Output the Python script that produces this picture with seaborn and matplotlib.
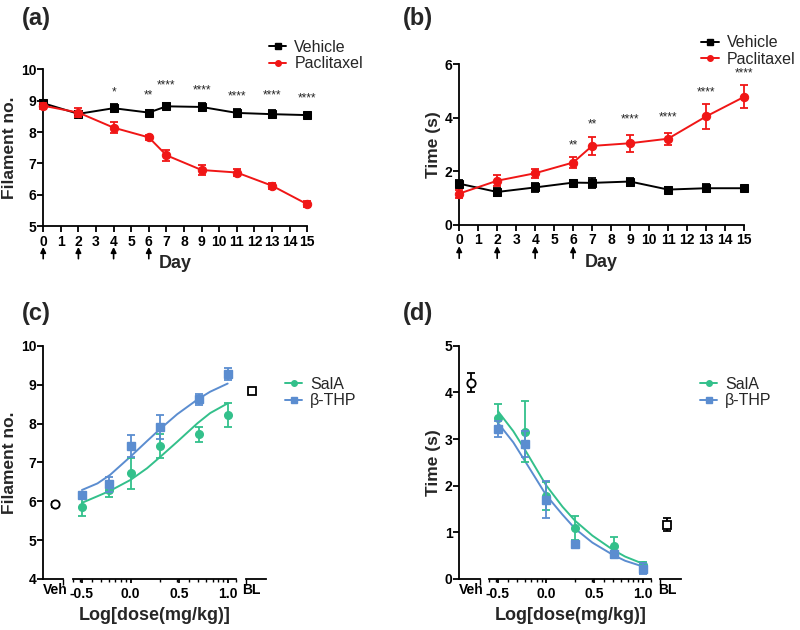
import numpy as np
import matplotlib
matplotlib.use('Agg')
import matplotlib.pyplot as plt
from matplotlib.lines import Line2D
from matplotlib.ticker import FixedLocator
import seaborn as sns

sns.set_theme(style='ticks')
plt.rcParams['font.family'] = ['Liberation Sans', 'DejaVu Sans']
plt.rcParams['font.weight'] = 'bold'
plt.rcParams['axes.labelweight'] = 'bold'
plt.rcParams['axes.linewidth'] = 1.3
plt.rcParams['xtick.major.width'] = 1.3
plt.rcParams['ytick.major.width'] = 1.3
plt.rcParams['xtick.minor.width'] = 1.0
plt.rcParams['xtick.color'] = 'black'
plt.rcParams['ytick.color'] = 'black'
plt.rcParams['axes.edgecolor'] = 'black'

# ---- data: time course (a, b) ----
days = [0, 2, 4, 6, 7, 9, 11, 13, 15]
inject_days = [0, 2, 4, 6]

a_veh = [8.92, 8.58, 8.76, 8.62, 8.82, 8.80, 8.61, 8.57, 8.54]
a_veh_err = [0.10, 0.10, 0.12, 0.08, 0.10, 0.12, 0.14, 0.13, 0.08]
a_pac = [8.84, 8.62, 8.14, 7.83, 7.26, 6.79, 6.71, 6.29, 5.70]
a_pac_err = [0.10, 0.15, 0.17, 0.09, 0.17, 0.16, 0.11, 0.10, 0.09]
a_star_days = [4, 6, 7, 9, 11, 13, 15]
a_star_text = ['*', '**', '****', '****', '****', '****', '****']
a_star_y = [9.27, 9.17, 9.49, 9.33, 9.12, 9.17, 9.07]

b_veh = [1.54, 1.23, 1.40, 1.58, 1.57, 1.62, 1.32, 1.37, 1.37]
b_veh_err = [0.14, 0.15, 0.16, 0.10, 0.20, 0.15, 0.08, 0.14, 0.10]
b_pac = [1.17, 1.65, 1.93, 2.33, 2.95, 3.05, 3.22, 4.05, 4.78]
b_pac_err = [0.15, 0.21, 0.17, 0.20, 0.35, 0.32, 0.22, 0.45, 0.43]
b_star_days = [6, 7, 9, 11, 13, 15]
b_star_text = ['**', '**', '****', '****', '****', '****']
b_star_y = [2.98, 3.75, 3.94, 4.01, 4.93, 5.67]

# ---- data: dose response (c, d) ----
dose_log = [-0.5, -0.22, 0.0, 0.3, 0.7, 1.0]
fit_x = [-0.5, -0.34, -0.21, 0.0, 0.17, 0.3, 0.48, 0.69, 0.82, 1.0]

c_sala = [5.86, 6.29, 6.72, 7.42, 7.72, 8.22]
c_sala_err = [0.25, 0.18, 0.40, 0.30, 0.20, 0.30]
c_thp = [6.16, 6.44, 7.42, 7.92, 8.63, 9.28]
c_thp_err = [0.05, 0.19, 0.29, 0.31, 0.14, 0.16]
c_sala_fit = [5.96, 6.13, 6.27, 6.55, 6.85, 7.13, 7.53, 8.01, 8.27, 8.52]
c_thp_fit = [6.29, 6.46, 6.68, 7.15, 7.55, 7.85, 8.24, 8.62, 8.82, 9.03]
c_veh, c_veh_err = 5.92, 0.07
c_bl, c_bl_err = 8.83, 0.08

d_sala = [3.46, 3.16, 1.78, 1.09, 0.70, 0.31]
d_sala_err = [0.29, 0.65, 0.30, 0.25, 0.20, 0.05]
d_thp = [3.22, 2.90, 1.70, 0.76, 0.53, 0.22]
d_thp_err = [0.17, 0.28, 0.40, 0.06, 0.08, 0.12]
d_sala_fit = [3.60, 3.17, 2.74, 2.01, 1.55, 1.25, 0.93, 0.63, 0.48, 0.33]
d_thp_fit = [3.35, 2.93, 2.50, 1.80, 1.38, 1.08, 0.78, 0.52, 0.39, 0.27]
d_veh, d_veh_err = 4.21, 0.20
d_bl, d_bl_err = 1.16, 0.14

minor_doses = [0.3, 0.4, 0.5, 0.6, 0.7, 0.8, 0.9, 2, 3, 4, 5, 6, 7, 8, 9]

RED = '#f01616'
GREEN = '#33c08b'
BLUE = '#5b8dd0'

fig = plt.figure(figsize=(8, 6.3), dpi=100)


def time_panel(rect, veh, veh_err, pac, pac_err, star_days, star_text, star_y,
               ylim, yticks, ylabel, leg_anchor):
    ax = fig.add_axes(rect)
    sns.lineplot(x=days, y=veh, ax=ax, color='black', marker='s', markersize=6,
                 markeredgecolor='black', linewidth=1.4, clip_on=False, zorder=3)
    ax.errorbar(days, veh, yerr=veh_err, fmt='none', ecolor='black',
                elinewidth=1.3, capsize=3, capthick=1.3, clip_on=False, zorder=3)
    sns.lineplot(x=days, y=pac, ax=ax, color=RED, marker='o', markersize=6,
                 markeredgecolor=RED, linewidth=1.4, clip_on=False, zorder=4)
    ax.errorbar(days, pac, yerr=pac_err, fmt='none', ecolor=RED,
                elinewidth=1.3, capsize=3, capthick=1.3, clip_on=False, zorder=4)
    for d, t, y in zip(star_days, star_text, star_y):
        ax.text(d, y, t, ha='center', va='center', fontsize=8.5, fontweight='normal')
    ax.set_xlim(0, 15)
    ax.set_ylim(*ylim)
    ax.set_xticks(range(0, 16))
    ax.set_yticks(yticks)
    ax.tick_params(axis='x', labelsize=10, length=4, pad=2)
    ax.tick_params(axis='y', labelsize=10, length=4, pad=0.8)
    ax.set_ylabel(ylabel, fontsize=12.5, labelpad=3)
    ax.set_xlabel('Day', fontsize=13, labelpad=5)
    for d in inject_days:
        ax.annotate('', xy=(d, -0.115), xytext=(d, -0.225),
                    xycoords=('data', 'axes fraction'),
                    arrowprops=dict(arrowstyle='-|>', color='black', lw=1.2,
                                    mutation_scale=8))
    sns.despine(ax=ax)
    handles = [Line2D([], [], color='black', marker='s', markersize=4, lw=1.4),
               Line2D([], [], color=RED, marker='o', markersize=4, lw=1.4)]
    ax.legend(handles, ['Vehicle', 'Paclitaxel'], loc='upper left',
              bbox_to_anchor=leg_anchor, frameon=False, handlelength=1.1,
              handletextpad=0.5, labelspacing=0.1, prop={'size': 11.5, 'weight': 'normal'})
    return ax


time_panel([0.054, 0.641, 0.330, 0.249], a_veh, a_veh_err, a_pac, a_pac_err,
           a_star_days, a_star_text, a_star_y, (5, 10), range(5, 11),
           'Filament no.', (0.80, 1.28))
time_panel([0.574, 0.643, 0.356, 0.255], b_veh, b_veh_err, b_pac, b_pac_err,
           b_star_days, b_star_text, b_star_y, (0, 6), [0, 2, 4, 6],
           'Time (s)', (0.80, 1.27))


def dose_panel(x0, bottom, height, veh_w, gap, main_w, ylim, yticks, ylabel,
               sala, sala_err, thp, thp_err, sala_fit, thp_fit,
               veh, veh_err, bl, bl_err, veh_pos, bl_pos):
    ax_v = fig.add_axes([x0, bottom, veh_w, height])
    ax_m = fig.add_axes([x0 + veh_w + gap, bottom, main_w, height])
    ax_b = fig.add_axes([x0 + veh_w + 2 * gap + main_w, bottom, veh_w, height])
    for ax in (ax_v, ax_m, ax_b):
        ax.set_ylim(*ylim)
        sns.despine(ax=ax)
        ax.tick_params(axis='x', which='major', labelsize=10, pad=3)
        ax.tick_params(axis='x', which='minor', length=2.5)
    for ax in (ax_m, ax_b):
        ax.spines['left'].set_visible(False)
        ax.set_yticks([])
    ax_v.set_yticks(yticks)
    ax_v.tick_params(axis='y', labelsize=10, length=4, pad=0.8)
    ax_v.set_ylabel(ylabel, fontsize=12.5, labelpad=3)

    # Veh
    ax_v.set_xlim(0, 1)
    ax_v.errorbar([veh_pos], [veh], yerr=[veh_err], fmt='o', mfc='white', mec='black',
                  ms=6, mew=1.3, ecolor='black', elinewidth=1.3, capsize=3, capthick=1.3)
    ax_v.set_xticks([veh_pos])
    ax_v.set_xticklabels(['Veh'])
    ax_v.tick_params(axis='x', which='major', length=0)
    ax_v.xaxis.set_minor_locator(FixedLocator([1.0]))
    ax_v.tick_params(axis='x', which='minor', length=4)

    # BL
    ax_b.set_xlim(0, 1)
    ax_b.errorbar([bl_pos], [bl], yerr=[bl_err], fmt='s', mfc='white', mec='black',
                  ms=6, mew=1.3, ecolor='black', elinewidth=1.3, capsize=3, capthick=1.3)
    ax_b.set_xticks([bl_pos])
    ax_b.set_xticklabels(['BL'])
    ax_b.tick_params(axis='x', which='major', length=0)
    ax_b.xaxis.set_minor_locator(FixedLocator([0.0]))
    ax_b.tick_params(axis='x', which='minor', length=4)

    # main dose axis
    xlo, xhi = -0.59, 1.09
    ax_m.set_xlim(xlo, xhi)
    ax_m.set_xticks([-0.5, 0.0, 0.5, 1.0])
    ax_m.set_xticklabels(['-0.5', '0.0', '0.5', '1.0'])
    ax_m.tick_params(axis='x', which='major', length=3)
    ax_m.xaxis.set_minor_locator(FixedLocator(list(np.log10(minor_doses)) + [xlo, xhi]))
    sns.lineplot(x=fit_x, y=sala_fit, ax=ax_m, color=GREEN, linewidth=1.4)
    sns.lineplot(x=fit_x, y=thp_fit, ax=ax_m, color=BLUE, linewidth=1.4)
    ax_m.errorbar(dose_log, sala, yerr=sala_err, fmt='o', color=GREEN, ms=5.5,
                  elinewidth=1.3, capsize=3, capthick=1.3, zorder=3)
    ax_m.errorbar(dose_log, thp, yerr=thp_err, fmt='s', color=BLUE, ms=5.5,
                  elinewidth=1.3, capsize=3, capthick=1.3, zorder=4)
    ax_m.set_xlabel('Log[dose(mg/kg)]', fontsize=13, labelpad=4)

    handles = [Line2D([], [], color=GREEN, marker='o', markersize=4, lw=1.4),
               Line2D([], [], color=BLUE, marker='s', markersize=4, lw=1.4)]
    ax_b.legend(handles, ['SalA', '\u03b2-THP'], loc='upper left',
                bbox_to_anchor=(1.2, 0.93), frameon=False, handlelength=1.1,
                handletextpad=0.5, labelspacing=0.1,
                prop={'size': 11.5, 'weight': 'normal'})


dose_panel(0.054, 0.081, 0.370, 0.025, 0.0125, 0.204, (4, 10), range(4, 11),
           'Filament no.', c_sala, c_sala_err, c_thp, c_thp_err,
           c_sala_fit, c_thp_fit, c_veh, c_veh_err, c_bl, c_bl_err, 0.6, 0.27)
dose_panel(0.574, 0.081, 0.370, 0.026, 0.0115, 0.2025, (0, 5), range(0, 6),
           'Time (s)', d_sala, d_sala_err, d_thp, d_thp_err,
           d_sala_fit, d_thp_fit, d_veh, d_veh_err, d_bl, d_bl_err, 0.57, 0.31)

for x, y, lbl in [(0.027, 0.971, '(a)'), (0.504, 0.971, '(b)'),
                  (0.027, 0.503, '(c)'), (0.504, 0.503, '(d)')]:
    fig.text(x, y, lbl, fontsize=17, fontweight='bold', ha='left', va='center')

fig.savefig('out.png', dpi=100)
